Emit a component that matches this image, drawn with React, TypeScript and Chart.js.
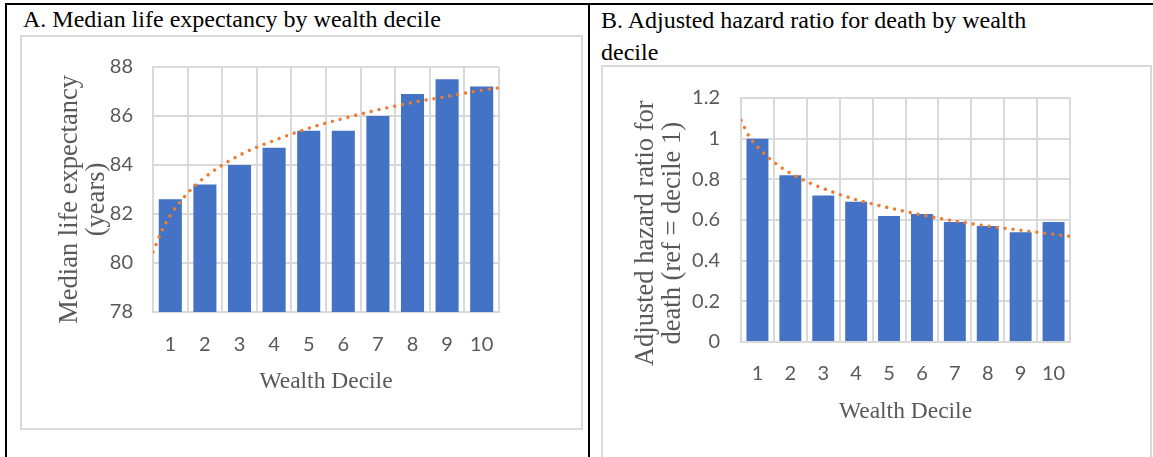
import React, { useEffect, useRef } from 'react';
import { Chart, registerables } from 'chart.js';

Chart.register(...registerables);

// ---------- data ----------
const deciles = ['1', '2', '3', '4', '5', '6', '7', '8', '9', '10'];
const lifeExpectancy = [82.6, 83.2, 84.0, 84.7, 85.4, 85.4, 86.0, 86.9, 87.5, 87.2];
const hazardRatio = [1.0, 0.82, 0.72, 0.69, 0.62, 0.63, 0.59, 0.57, 0.54, 0.59];

// dotted trend lines at these decile positions
const trendX = [0.5, 0.75, 1, 1.5, 2, 3, 4, 5, 6, 7, 8, 9, 10, 10.5];
const lifeTrend = [80.45, 81.3, 81.95, 82.85, 83.5, 84.4, 85.0, 85.5, 85.9, 86.25, 86.55, 86.8, 87.05, 87.15];
const hazardTrend = [1.09, 1.01, 0.96, 0.885, 0.83, 0.755, 0.7, 0.66, 0.625, 0.595, 0.57, 0.55, 0.53, 0.52];

const lifeTicks = ['78', '80', '82', '84', '86', '88'];
const hazardTicks = ['0', '0.2', '0.4', '0.6', '0.8', '1', '1.2'];

const titleA = 'A. Median life expectancy by wealth decile';
const titleB1 = 'B. Adjusted hazard ratio for death by wealth';
const titleB2 = 'decile';
const yTitleA = ['Median life expectancy', '(years)'];
const yTitleB = ['Adjusted hazard ratio for', 'death (ref = decile 1)'];
const xTitle = 'Wealth Decile';

// ---------- styles ----------
const BAR = '#4472C4';
const TREND = '#ED7D31';
const GRID = '#D9D9D9';
const TEXT = '#595959';
const SERIF = '"Liberation Serif", "Times New Roman", serif';
const SANS = 'Lato, "Open Sans", sans-serif';

type ChartProps = {
  left: number;
  top: number;
  width: number;
  height: number;
  plotLeft: number;
  plotTop: number;
  plotRight: number;
  plotBottom: number;
  values: number[];
  trend: number[];
  tickLabels: string[];
  yMin: number;
  yMax: number;
  yStep: number;
  yTitle: string[];
  yTitleShift: number;
  yTitlePad: number;
  xTickPad: number;
  yTickPad: number;
};

function BarTrendChart(p: ChartProps) {
  const ref = useRef<HTMLCanvasElement>(null);
  useEffect(() => {
    const trendPoints = trendX.map((x, i) => ({ x, y: p.trend[i] }));
    // trailing no-break spaces nudge the rotated axis title down like in the original
    const pad = '\u00A0'.repeat(p.yTitleShift);
    const chart = new Chart(ref.current as HTMLCanvasElement, {
      type: 'bar',
      data: {
        labels: deciles,
        datasets: [
          {
            type: 'bar',
            data: p.values,
            xAxisID: 'x',
            yAxisID: 'y',
            backgroundColor: BAR,
            borderWidth: 0,
            barPercentage: 0.667,
            categoryPercentage: 1,
            grouped: false,
            order: 1,
          } as any,
          {
            type: 'line',
            data: trendPoints as any,
            xAxisID: 'x2',
            yAxisID: 'y',
            borderColor: TREND,
            borderWidth: 3.4,
            borderDash: [0.01, 8],
            borderCapStyle: 'round',
            pointRadius: 0,
            fill: false,
            cubicInterpolationMode: 'monotone',
            order: 0,
          } as any,
        ],
      },
      options: {
        responsive: false,
        animation: false,
        devicePixelRatio: 1,
        layout: {
          padding: {
            left: 0,
            top: p.plotTop,
            right: p.width - p.plotRight,
            bottom: 0,
          },
        },
        plugins: {
          legend: { display: false },
          tooltip: { enabled: false },
          title: { display: false },
        },
        scales: {
          x: {
            type: 'category',
            position: 'bottom',
            offset: true,
            grid: { display: true, color: GRID, lineWidth: 2, drawTicks: false, offset: true },
            border: { display: true, color: GRID, width: 2 },
            ticks: {
              color: TEXT,
              font: { family: SANS, size: 20, lineHeight: 1 },
              padding: p.xTickPad,
              maxRotation: 0,
              autoSkip: false,
            },
            title: {
              display: true,
              text: xTitle,
              color: TEXT,
              font: { family: SERIF, size: 23.5, lineHeight: 1 },
              padding: { top: 0, bottom: 33.25 },
            },
            afterFit: (scale: any) => {
              scale.height = p.height - p.plotBottom;
            },
          },
          x2: {
            type: 'linear',
            display: false,
            offset: false,
            grid: { offset: false },
            min: 0.5,
            max: 10.5,
          },
          y: {
            type: 'linear',
            position: 'left',
            min: p.yMin,
            max: p.yMax,
            grid: { display: true, color: GRID, lineWidth: 2, drawTicks: false },
            border: { display: true, color: GRID, width: 2 },
            ticks: {
              stepSize: p.yStep,
              color: TEXT,
              font: { family: SANS, size: 20, lineHeight: 1 },
              padding: p.yTickPad,
              callback: (value: any) => {
                const v = Number(value);
                const found = p.tickLabels.find((t) => Math.abs(Number(t) - v) < 1e-6);
                return found ?? String(v);
              },
            },
            title: {
              display: true,
              text: p.yTitle.map((t) => t + pad),
              color: TEXT,
              font: { family: SERIF, size: 26.5, lineHeight: 1.03 },
              padding: { top: p.yTitlePad, bottom: 0 },
            },
            afterFit: (scale: any) => {
              scale.width = p.plotLeft;
            },
          },
        },
      } as any,
    });
    return () => chart.destroy();
  }, []);
  return (
    <canvas
      ref={ref}
      width={p.width}
      height={p.height}
      style={{ position: 'absolute', left: p.left, top: p.top, width: p.width, height: p.height }}
    />
  );
}

const abs = (left: number, top: number, width: number, height: number, extra: React.CSSProperties = {}): React.CSSProperties => ({
  position: 'absolute',
  left,
  top,
  width,
  height,
  boxSizing: 'border-box',
  ...extra,
});

const titleStyle = (left: number, top: number): React.CSSProperties => ({
  position: 'absolute',
  left,
  top,
  fontFamily: SERIF,
  fontSize: 24,
  lineHeight: 1,
  color: '#000',
  whiteSpace: 'nowrap',
});

export default function App() {
  return (
    <div style={{ position: 'absolute', left: 0, top: 0, width: 1153, height: 457, overflow: 'hidden', background: '#fff' }}>
      {/* table borders */}
      <div style={abs(5, 3, 1148, 2, { background: '#000' })} />
      <div style={abs(5, 3, 2, 454, { background: '#000' })} />
      <div style={abs(588, 3, 2, 454, { background: '#000' })} />

      {/* titles */}
      <div style={titleStyle(23, 7)}>{titleA}</div>
      <div style={titleStyle(601, 8)}>{titleB1}</div>
      <div style={titleStyle(601, 40)}>{titleB2}</div>

      {/* chart boxes */}
      <div style={abs(20, 35, 563, 395, { border: `2px solid ${GRID}` })} />
      <div style={abs(601, 65, 551, 420, { border: `2px solid ${GRID}` })} />

      <BarTrendChart
        left={22}
        top={37}
        width={558}
        height={390}
        plotLeft={131}
        plotTop={28}
        plotRight={477}
        plotBottom={275}
        values={lifeExpectancy}
        trend={lifeTrend}
        tickLabels={lifeTicks}
        yMin={78}
        yMax={88}
        yStep={2}
        yTitle={yTitleA}
        yTitleShift={3}
        yTitlePad={34.5}
        xTickPad={23}
        yTickPad={20}
      />
      <BarTrendChart
        left={603}
        top={67}
        width={547}
        height={390}
        plotLeft={138}
        plotTop={30}
        plotRight={467}
        plotBottom={275}
        values={hazardRatio}
        trend={hazardTrend}
        tickLabels={hazardTicks}
        yMin={0}
        yMax={1.2}
        yStep={0.2}
        yTitle={yTitleB}
        yTitleShift={4}
        yTitlePad={29.5}
        xTickPad={22}
        yTickPad={21}
      />
    </div>
  );
}
